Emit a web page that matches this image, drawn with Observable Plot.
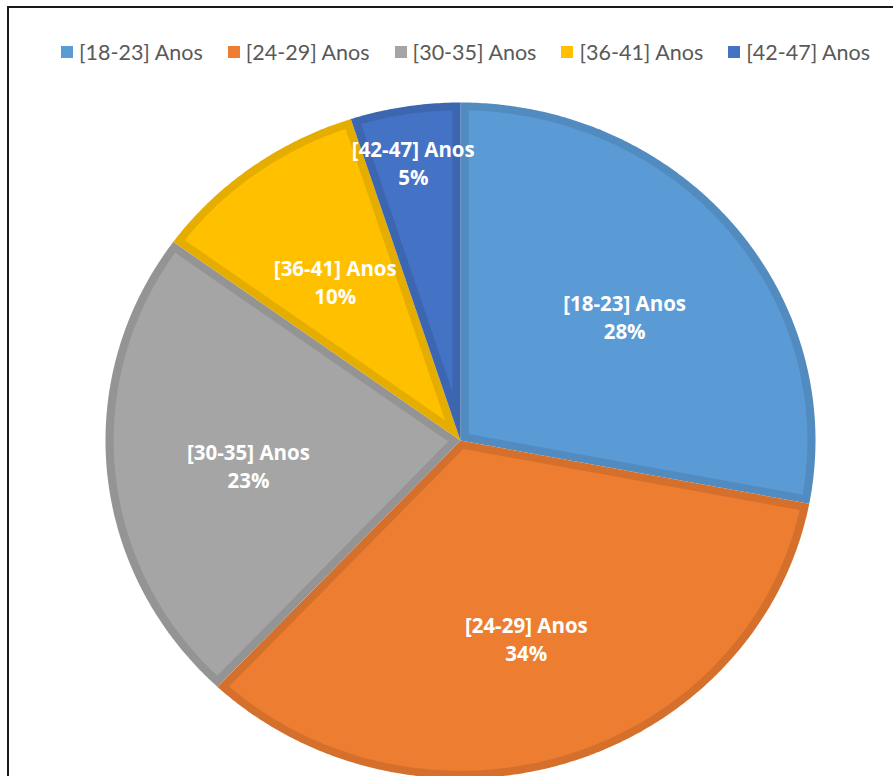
<!DOCTYPE html>
<html>
<head>
<meta charset="utf-8">
<script src="https://cdn.jsdelivr.net/npm/d3@7"></script>
<script src="https://cdn.jsdelivr.net/npm/@observablehq/plot@0.6"></script>
<style>
  html, body { margin: 0; padding: 0; background: #fff; }
  #wrap { position: relative; width: 893px; height: 776px; overflow: hidden; font-family: Lato, "Noto Sans", sans-serif; }
  #frame { position: absolute; left: 7px; top: 6px; right: -10px; bottom: -10px; border-top: 2px solid #1a1a1a; border-left: 2px solid #1a1a1a; pointer-events: none; }
  #legend { height: 90px; display: flex; justify-content: center; align-items: flex-start; padding-top: 39px; box-sizing: border-box; gap: 25px; font-size: 21.5px; color: #595959; padding-left: 38px; }
  .item { display: flex; align-items: center; white-space: nowrap; }
  .sw { width: 12px; height: 12px; margin-right: 6px; display: inline-block; }
  #chart svg { display: block; }
</style>
</head>
<body>
<div id="wrap">
  <div id="legend"></div>
  <div id="chart"></div>
  <div id="frame"></div>
</div>
<script>
const categories = ["[18-23] Anos", "[24-29] Anos", "[30-35] Anos", "[36-41] Anos", "[42-47] Anos"];
const values = [28, 34, 23, 10, 5];
const colors = ["#5B9BD5", "#ED7D31", "#A5A5A5", "#FFC000", "#4472C4"];

// legend
const legend = d3.select("#legend");
categories.forEach((c, i) => {
  const it = legend.append("div").attr("class", "item");
  it.append("span").attr("class", "sw").style("background", colors[i]);
  it.append("span").text(c);
});

// pie geometry in unit coordinates (y up), angle 0 at top, clockwise
const total = d3.sum(values);
const arcs = d3.pie().sort(null).value(d => d)(values);
const border = 0.023;
const step = Math.PI / 360;

const outer = [], inner = [], labels = [];
arcs.forEach((a, i) => {
  const a0 = a.startAngle, a1 = a.endAngle;
  const pt = (ang, r) => ({x: Math.sin(ang) * r, y: Math.cos(ang) * r});
  outer.push({k: i, ...pt(0, 0)});
  for (let t = a0; t < a1; t += step) outer.push({k: i, ...pt(t, 1)});
  outer.push({k: i, ...pt(a1, 1)});
  const rho = 1 - border;
  const off = Math.asin(border / rho);
  const theta = a1 - a0;
  const apexR = border / Math.sin(theta / 2);
  inner.push({k: i, ...pt((a0 + a1) / 2, apexR)});
  for (let t = a0 + off; t < a1 - off; t += step) inner.push({k: i, ...pt(t, rho)});
  inner.push({k: i, ...pt(a1 - off, rho)});
  const mid = (a0 + a1) / 2;
  const lr = values[i] / total < 0.08 ? 0.85 : 0.6;
  labels.push({k: i, ...pt(mid, lr), text: `${categories[i]}\n${Math.round(values[i] / total * 100)}%`});
});

const darker = c => d3.color(c).darker(0.3).formatHex();

const plot = Plot.plot({
  width: 893,
  height: 686,
  margin: 0,
  x: {domain: [-1, 1], range: [105, 815], axis: null},
  y: {domain: [-1, 1], range: [688, 12], axis: null},
  marks: [
    Plot.line(outer, {x: "x", y: "y", z: "k", fill: d => darker(colors[d.k]), stroke: "none"}),
    Plot.line(inner, {x: "x", y: "y", z: "k", fill: d => colors[d.k], stroke: "none"}),
    Plot.text(labels, {x: "x", y: "y", dy: 5, text: "text", fill: "white", fontSize: 20.5, fontWeight: "bold", lineHeight: 1.37, fontFamily: "'Open Sans', 'Noto Sans', sans-serif"})
  ]
});
plot.style.overflow = "hidden";
document.getElementById("chart").appendChild(plot);
</script>
</body>
</html>
